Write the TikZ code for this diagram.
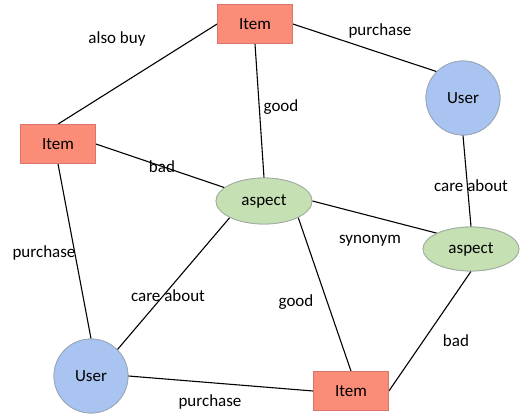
\documentclass[tikz,border=0pt]{standalone}
\usepackage{fontspec}
\setmainfont{Carlito}
\usetikzlibrary{shapes.geometric}
\definecolor{itemfill}{HTML}{FA8C78}
\definecolor{itemdraw}{HTML}{D9756A}
\definecolor{userfill}{HTML}{A9C4F0}
\definecolor{userdraw}{HTML}{9AA6B8}
\definecolor{aspfill}{HTML}{C5E0B3}
\definecolor{aspdraw}{HTML}{A0ADA0}
\tikzset{
  x=1pt, y=-1pt,
  every node/.style={font=\fontsize{17}{20}\selectfont},
  itembox/.style={rectangle, fill=itemfill, draw=itemdraw, line width=0.8pt, minimum width=75pt, minimum height=39pt},
  userc/.style={circle, fill=userfill, draw=userdraw, line width=0.8pt, minimum size=74pt, inner sep=0pt},
  aspe/.style={ellipse, fill=aspfill, draw=aspdraw, line width=0.8pt, minimum width=96pt, minimum height=46pt, inner sep=0pt},
  conn/.style={draw=black, line width=1.1pt},
  lbl/.style={inner sep=1pt}
}
\begin{document}
\begin{tikzpicture}
\useasboundingbox[fill=white] (0,0) rectangle (520,415);
% nodes
\node[itembox] (IT) at (255,24) {Item};
\node[itembox] (IL) at (58,144) {Item};
\node[itembox] (IB) at (351,391) {Item};
\node[userc] (UR) at (463,98) {User};
\node[userc] (UB) at (91,376) {User};
\node[aspe] (AC) at (264,201) {aspect};
\node[aspe, minimum height=44pt] (AR) at (471,249) {aspect};
% connectors
\draw[conn] (IT.west) -- (IL.north);
\draw[conn] (IT.east) -- (UR.north west);
\draw[conn] (IT.south) -- (AC.north);
\draw[conn] (IL.east) -- (AC);
\draw[conn] (IL.south) -- (UB.north);
\draw[conn] (UR.south) -- (AR.north);
\draw[conn] (AC.east) -- (AR.north west);
\draw[conn] (AC.south west) -- (UB.north east);
\draw[conn] (AC.south east) -- (IB.north);
\draw[conn] (AR.south) -- (IB.east);
\draw[conn] (UB.east) -- (IB.west);
% redraw nodes on top of connectors
\node[itembox] at (IT) {Item};
\node[itembox] at (IL) {Item};
\node[itembox] at (IB) {Item};
\node[userc] at (UR) {User};
\node[userc] at (UB) {User};
\node[aspe] at (AC) {aspect};
\node[aspe, minimum height=44pt] at (AR) {aspect};
% labels
\node[lbl] (l1) at (117,39) {also buy};
\node[lbl] (l2) at (380,31) {purchase};
\node[lbl] (l3) at (281,107) {good};
\node[lbl] (l4) at (162,167) {bad};
\node[lbl] (l5) at (44,253) {purchase};
\node[lbl] (l6) at (471,186) {care about};
\node[lbl] (l7) at (370,241) {synonym};
\node[lbl] (l8) at (168,296) {care about};
\node[lbl] (l9) at (296,302) {good};
\node[lbl] (l10) at (456,341) {bad};
\node[lbl] (l11) at (210,402) {purchase};
\end{tikzpicture}
\end{document}
